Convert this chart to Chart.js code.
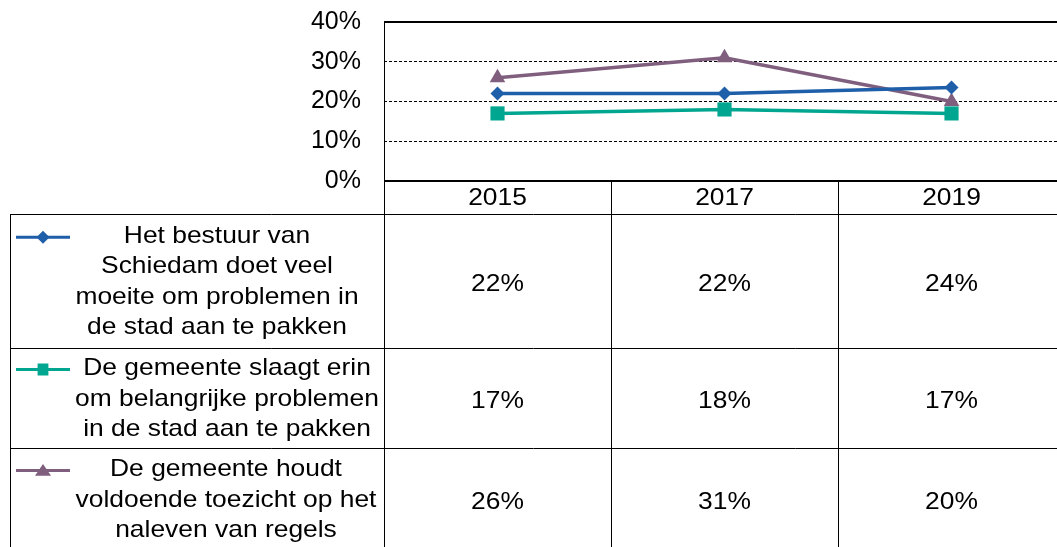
<!DOCTYPE html>
<html>
<head>
<meta charset="utf-8">
<script src="https://cdn.jsdelivr.net/npm/chart.js@4.4.0/dist/chart.umd.min.js"></script>
<style>
  html, body { margin: 0; padding: 0; background: #fff; overflow: hidden; }
  #wrap { position: relative; width: 1057px; height: 547px; }
</style>
</head>
<body>
<div id="wrap"><canvas id="chart"></canvas></div>
<script>
// years on the x axis
const years = ['2015', '2017', '2019'];

// series names, split the way the table wraps them
const bestuurName = ['Het bestuur van', 'Schiedam doet veel', 'moeite om problemen in', 'de stad aan te pakken'];
const slaagtName  = ['De gemeente slaagt erin', 'om belangrijke problemen', 'in de stad aan te pakken'];
const toezichtName = ['De gemeente houdt', 'voldoende toezicht op het', 'naleven van regels'];

// plotted values (%)
const bestuurValues  = [22, 22, 23.5];
const slaagtValues   = [17, 18, 17];
const toezichtValues = [26, 31, 20];

// values printed in the data table
const bestuurLabels  = ['22%', '22%', '24%'];
const slaagtLabels   = ['17%', '18%', '17%'];
const toezichtLabels = ['26%', '31%', '20%'];

const yTicks = [0, 10, 20, 30, 40];

const FONT = '24px "Liberation Sans", Arial, sans-serif';
const STRETCH = 1.1; // the original text is a bit wider than Arial

const series = [
  { names: bestuurName,  values: bestuurValues,  labels: bestuurLabels,  color: '#1F5EA8', style: 'rectRot', radius: 7,  keyR: 6.5 },
  { names: slaagtName,   values: slaagtValues,   labels: slaagtLabels,   color: '#00A68F', style: 'rect',    radius: 10, keyR: 7.5 },
  { names: toezichtName, values: toezichtValues, labels: toezichtLabels, color: '#7F5E7E', style: 'triangle', radius: 9, keyR: 8 },
];

// table geometry
const headerTop = 181;
const rowEdges = [214, 348, 448, 550];
const tableLeft = 10;
const lineH = 30.5;
const nameX = [217, 227, 226];

// the third column is cut off by the right edge of the picture:
// each year gets 227px starting at x=384, so the axis ends part way into 2019's column
const plotLeft = 384, colW = 227;

function text(ctx, t, x, y) {
  ctx.save();
  ctx.translate(x, y);
  ctx.scale(STRETCH, 1);
  ctx.fillText(t, 0, 0);
  ctx.restore();
}

function drawKey(ctx, s, y) {
  ctx.save();
  ctx.strokeStyle = s.color;
  ctx.fillStyle = s.color;
  ctx.lineWidth = 3;
  ctx.beginPath();
  ctx.moveTo(16, y);
  ctx.lineTo(70, y);
  ctx.stroke();
  const cx = 43, r = s.keyR;
  ctx.beginPath();
  if (s.style === 'rectRot') {
    ctx.moveTo(cx, y - r); ctx.lineTo(cx + r, y); ctx.lineTo(cx, y + r); ctx.lineTo(cx - r, y);
  } else if (s.style === 'rect') {
    ctx.rect(cx - r * 0.72, y - r * 0.8, r * 1.44, r * 1.6);
  } else {
    ctx.moveTo(cx, y - r * 0.8); ctx.lineTo(cx + r, y + r * 0.65); ctx.lineTo(cx - r, y + r * 0.65);
  }
  ctx.closePath();
  ctx.fill();
  ctx.restore();
}

const tablePlugin = {
  id: 'dataTable',
  // stretch the x range so one year is always colW pixels wide
  afterLayout(chart) {
    const a = chart.chartArea;
    const xs = chart.scales.x;
    xs.max = -0.5 + (a.right - a.left) / colW;
    xs.configure();
  },
  afterDraw(chart) {
    const ctx = chart.ctx;
    const a = chart.chartArea;
    const xs = chart.scales.x;
    const bottom = rowEdges[rowEdges.length - 1];

    ctx.save();
    ctx.strokeStyle = '#000';
    // plot frame: top and bottom lines (right side is off the picture)
    ctx.lineWidth = 2;
    ctx.beginPath();
    ctx.moveTo(a.left, a.top); ctx.lineTo(chart.width, a.top);
    ctx.moveTo(a.left, a.bottom); ctx.lineTo(chart.width, a.bottom);
    ctx.stroke();

    // table lines
    ctx.lineWidth = 1;
    ctx.beginPath();
    ctx.moveTo(a.left + 0.5, a.top); ctx.lineTo(a.left + 0.5, bottom);
    ctx.moveTo(tableLeft + 0.5, rowEdges[0]); ctx.lineTo(tableLeft + 0.5, bottom);
    for (let i = 1; i < years.length; i++) {
      const x = Math.round(xs.getPixelForValue(i - 0.5)) + 0.5;
      ctx.moveTo(x, headerTop); ctx.lineTo(x, bottom);
    }
    for (let r = 0; r < rowEdges.length - 1; r++) {
      ctx.moveTo(tableLeft, rowEdges[r] + 0.5); ctx.lineTo(chart.width, rowEdges[r] + 0.5);
    }
    ctx.stroke();

    ctx.fillStyle = '#000';
    ctx.font = FONT;
    ctx.textAlign = 'center';
    ctx.textBaseline = 'middle';
    years.forEach((y, i) => {
      text(ctx, y, xs.getPixelForValue(i), (headerTop + rowEdges[0]) / 2 + 1);
    });

    series.forEach((s, r) => {
      const top = rowEdges[r], bot = rowEdges[r + 1];
      const mid = (top + bot) / 2;
      const firstY = mid - (s.names.length - 1) * lineH / 2 + 1;
      s.names.forEach((t, k) => text(ctx, t, nameX[r], firstY + k * lineH));
      s.labels.forEach((t, i) => text(ctx, t, xs.getPixelForValue(i), mid + 3));
      drawKey(ctx, s, firstY + 1);
    });
    ctx.restore();
  }
};

new Chart(document.getElementById('chart'), {
  type: 'line',
  data: {
    datasets: series.map(s => ({
      label: s.names.join(' '),
      data: s.values.map((v, i) => ({ x: i, y: v })),
      borderColor: s.color,
      backgroundColor: s.color,
      borderWidth: 3.5,
      pointStyle: s.style,
      pointRadius: s.radius,
      pointHoverRadius: s.radius,
      pointBorderWidth: 0,
      tension: 0,
      clip: false,
    })),
  },
  options: {
    responsive: true,
    maintainAspectRatio: false,
    animation: false,
    events: [],
    layout: { autoPadding: false, padding: { left: 0, right: 0, top: 22, bottom: 366 } },
    plugins: { legend: { display: false }, tooltip: { enabled: false } },
    scales: {
      x: {
        type: 'linear',
        display: false,
        min: -0.5,
        max: 2.46,
      },
      y: {
        min: 0,
        max: 40,
        afterFit(scale) {
          scale.width = plotLeft;
          scale.paddingTop = 0;
          scale.paddingBottom = 0;
        },
        afterBuildTicks(scale) { scale.ticks = yTicks.map(v => ({ value: v })); },
        ticks: {
          padding: 23,
          color: '#000',
          font: { family: '"Liberation Sans", Arial, sans-serif', size: 25 },
          callback: v => v + '%',
        },
        grid: {
          drawTicks: false,
          color: ctx => (ctx.tick && (ctx.tick.value === 0 || ctx.tick.value === 40)) ? 'rgba(0,0,0,0)' : '#000',
          lineWidth: 1,
        },
        border: { display: false, dash: [3, 2] },
      },
    },
  },
  plugins: [tablePlugin],
});
</script>
</body>
</html>
